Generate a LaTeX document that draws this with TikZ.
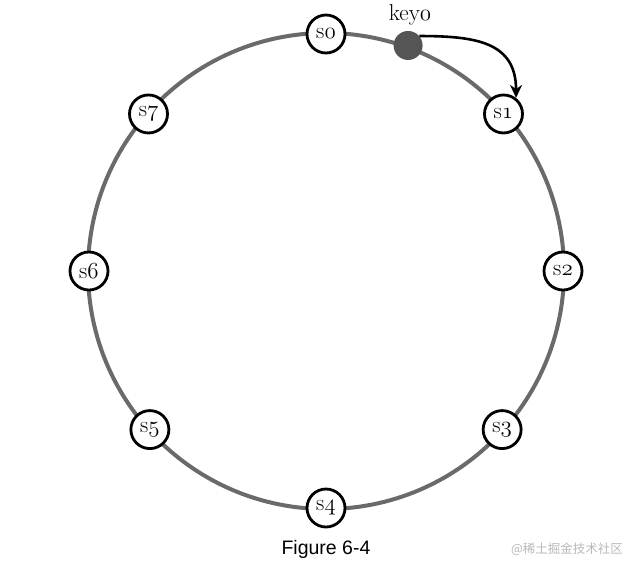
\RequirePackage{fix-cm}
\documentclass[tikz,border=0pt]{standalone}
\usepackage{fontspec}
\newfontfamily\figsans{Liberation Sans}
\newfontfamily\cjk{Noto Sans CJK SC}
\usetikzlibrary{arrows.meta,calc}
\newcommand{\osdig}[1]{\ensuremath{\mathnormal{#1}}}
\definecolor{ringgray}{HTML}{6A6A6A}
\definecolor{dotgray}{HTML}{555555}
\definecolor{wmgray}{HTML}{B8B8B8}
\tikzset{
  ring/.style={draw=ringgray, line width=4pt},
  server/.style={circle, draw=black, line width=2.8pt, fill=white, minimum size=38pt, inner sep=0pt, font=\fontsize{23}{23}\selectfont},
  keydot/.style={circle, fill=dotgray, minimum size=29pt, inner sep=0pt},
  keyarrow/.style={-{Stealth[length=13pt,width=12pt]}, line width=2.6pt, black},
}
\begin{document}
\begin{tikzpicture}[x=1pt,y=-1pt]
\useasboundingbox (0,0) rectangle (629,566);
\coordinate (c) at (326,271);
\draw[ring] (c) circle (238);
\foreach \n/\a in {0/90,1/41.5,2/0,3/-42,4/-90,5/-138,6/180,7/138.5}{
  \node[server] (s\n) at ($(c)+(\a:237 and -237)$) {s\osdig{\n}};
}
\node[keydot] (key) at ($(c)+(70:240 and -240)$) {};
\node[font=\fontsize{23}{23}\selectfont] (keylabel) at (410,15) {key\osdig{0}};
\draw[keyarrow] (key.40) to[out=0,in=90,looseness=1.25] (s1.52);
\node[font=\figsans\fontsize{19.5}{20}\selectfont] (caption) at (326,549) {Figure 6-4};
\node[font=\cjk\fontsize{12.5}{13}\selectfont, text=wmgray] (wm) at (567,549) {@稀土掘金技术社区};
\end{tikzpicture}
\end{document}
